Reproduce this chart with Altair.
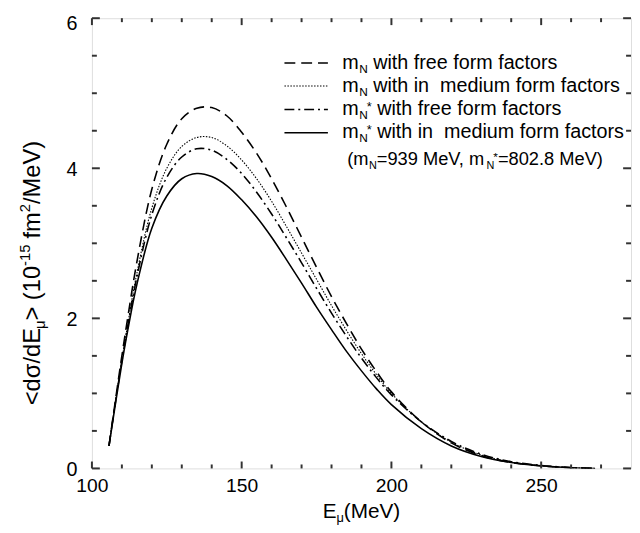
import altair as alt
import pandas as pd

# ---------------- data ----------------
E_MEV = [105.7, 108, 110, 112, 115, 120, 125, 130, 135, 140, 145, 150, 155, 160,
         165, 170, 175, 180, 185, 190, 195, 200, 210, 220, 230, 240, 250, 260, 268]
MN_FREE = [0.30, 0.95, 1.50, 2.02, 2.75, 3.72, 4.32, 4.66, 4.80, 4.81, 4.70, 4.48, 4.20, 3.86,
           3.48, 3.08, 2.68, 2.29, 1.93, 1.59, 1.29, 1.02, 0.62, 0.34, 0.17, 0.08, 0.033, 0.01, 0.0]
MN_MED = [0.30, 0.93, 1.45, 1.93, 2.60, 3.47, 4.00, 4.29, 4.41, 4.41, 4.30, 4.11, 3.86, 3.56,
          3.22, 2.87, 2.52, 2.17, 1.84, 1.53, 1.25, 1.00, 0.62, 0.35, 0.18, 0.085, 0.035, 0.01, 0.0]
MNS_FREE = [0.30, 0.92, 1.43, 1.90, 2.55, 3.38, 3.88, 4.15, 4.26, 4.24, 4.12, 3.93, 3.68, 3.39,
            3.07, 2.74, 2.40, 2.07, 1.76, 1.47, 1.21, 0.98, 0.62, 0.36, 0.19, 0.09, 0.04, 0.012, 0.0]
MNS_MED = [0.30, 0.90, 1.40, 1.85, 2.45, 3.20, 3.63, 3.86, 3.93, 3.89, 3.77, 3.58, 3.35, 3.08,
           2.78, 2.47, 2.15, 1.85, 1.56, 1.30, 1.06, 0.85, 0.53, 0.30, 0.16, 0.08, 0.035, 0.01, 0.0]

X_MAJOR = [100, 150, 200, 250]
X_MINOR = [110, 120, 130, 140, 160, 170, 180, 190, 210, 220, 230, 240, 260, 270]
Y_MAJOR = [0, 2, 4, 6]
Y_MINOR = [0.5, 1, 1.5, 2.5, 3, 3.5, 4.5, 5, 5.5]

# ---------------- layout / style ----------------
FONT = "Liberation Sans"
AX = "#333333"
NB = "\u00a0"
TOP = 7
W, H = 546, 456
xs = alt.Scale(domain=[100, 280], nice=False, zero=False)
ys = alt.Scale(domain=[0, 6], nice=False, zero=False)
XAX = alt.Axis(values=X_MAJOR, ticks=False, domain=False, grid=False, title=None,
               labelFont=FONT, labelFontSize=19.5, labelColor="black",
               labelPadding=8, labelFlush=False, format="d")
YAX = alt.Axis(values=Y_MAJOR, ticks=False, domain=False, grid=False, title=None,
               labelFont=FONT, labelFontSize=20, labelColor="black",
               labelPadding=15, labelFlush=False, format="d",
               labelOffset={"condition": {"test": "datum.value == 6", "value": 5.5},
                            "value": 1})

AW = {' ': 278, NB: 278, '(': 333, ')': 333, '<': 584, '>': 584, '/': 278, '-': 333,
      '=': 584, '*': 389, ',': 278, '.': 278, 'a': 556, 'c': 500, 'd': 556, 'e': 556,
      'f': 278, 'h': 556, 'i': 222, 'm': 833, 'n': 556, 'o': 556, 'r': 333, 's': 500,
      't': 278, 'u': 556, 'w': 722, 'E': 667, 'M': 833, 'N': 722, 'V': 667,
      'σ': 571, 'μ': 577}


def tw(s, size):
    return sum(AW.get(c, 556) for c in s) * size / 1000.0


def one_row():
    return alt.InlineData(values=[{"k": 0}])


def txt(s, px, py, size, angle=0):
    return alt.Chart(one_row()).mark_text(
        text=s, fontSize=size, font=FONT, align="left", baseline="alphabetic",
        angle=angle, color="black"
    ).encode(x=alt.value(px), y=alt.value(py))


def rich_h(pieces, x0, y0):
    """pieces: (text, size, baseline shift, extra x kern) laid out left to right"""
    out, x = [], x0
    for s, size, sh, k in pieces:
        x += k
        out.append(txt(s, x, y0 + sh, size))
        x += tw(s, size)
    return out


def rich_v(pieces, xb, y0):
    """rotated 270: laid out bottom to top; shift >0 = subscript (to the right)"""
    out, y = [], y0
    for s, size, sh, k in pieces:
        y -= k
        out.append(txt(s, xb + sh, y, size, angle=270))
        y -= tw(s, size)
    return out


layers = []

# ---------------- curves ----------------
series = [
    (MN_FREE, [11, 6], 1.6),
    (MN_MED, [1.5, 1.5], 1.1),
    (MNS_FREE, [10, 4, 2, 4], 1.6),
    (MNS_MED, None, 1.6),
]
for vals, dash, sw in series:
    df = pd.DataFrame({"E": E_MEV, "s": vals})
    mk = dict(color="black", strokeWidth=sw, interpolate="catmull-rom", clip=True)
    if dash:
        mk["strokeDash"] = dash
    layers.append(alt.Chart(df).mark_line(**mk).encode(
        x=alt.X("E:Q", scale=xs, axis=XAX),
        y=alt.Y("s:Q", scale=ys, axis=YAX)))


# ---------------- inward ticks on all four sides ----------------
def xticks(vals, ln):
    d = pd.DataFrame({"E": vals})
    b = alt.Chart(d).mark_rule(color=AX, strokeWidth=2)
    xe = alt.X("E:Q", scale=xs, axis=XAX)
    return [b.encode(x=xe, y=alt.value(H), y2=alt.value(H - ln)),
            b.encode(x=xe, y=alt.value(0), y2=alt.value(ln))]


def yticks(vals, ln):
    d = pd.DataFrame({"s": vals})
    b = alt.Chart(d).mark_rule(color=AX, strokeWidth=2)
    ye = alt.Y("s:Q", scale=ys, axis=YAX)
    return [b.encode(y=ye, x=alt.value(0), x2=alt.value(ln)),
            b.encode(y=ye, x=alt.value(W), x2=alt.value(W - ln))]


layers += xticks(X_MAJOR, 7) + xticks(X_MINOR, 4)
layers += yticks(Y_MAJOR, 8) + yticks(Y_MINOR, 5)

# ---------------- legend (drawn) ----------------
DY = 5 - TOP   # keep legend at the same place on the page
LX0, LX1 = 195, 239
TX = 253.5
rows = [
    ([11, 6], 1.6, 47.3, 53.0, False, "with free form factors"),
    ([1.5, 1.5], 1.1, 70.7, 76.3, False, "with in" + NB + " medium form factors"),
    ([10, 4, 2, 4], 1.6, 94.5, 99.6, True, "with free form factors"),
    (None, 1.6, 118.0, 123.0, True, "with in" + NB + " medium form factors"),
]
for dash, sw, ly, by, star, rest in rows:
    mk = dict(color="black", strokeWidth=sw)
    if dash:
        mk["strokeDash"] = dash
    layers.append(alt.Chart(one_row()).mark_rule(**mk).encode(
        x=alt.value(LX0), x2=alt.value(LX1), y=alt.value(ly + DY)))
    pcs = [("m", 20, 0, 0), ("N", 12, 4, 0.5)]
    if star:
        pcs.append(("*", 13, -4, -1.0))
    pcs.append((rest, 20, 0, 5.5))
    layers += rich_h(pcs, TX, by + DY)

layers += rich_h([("(m", 18.5, 0, 0), ("N", 11, 4, 0.5), ("=939 MeV, m", 18.5, 0, 0),
                  ("N", 11, 4, 0.5), ("*", 12, -4, -1.0), ("=802.8 MeV)", 18.5, 0, 0)],
                 258.5, 150.7 + DY)

# ---------------- axis titles (with sub/superscripts) ----------------
XT = [("E", 21, 0, 0), ("μ", 13, 4, 0), ("(MeV)", 21, 0, 0)]
xt_w = sum(tw(s, z) for s, z, _, _ in XT)
layers += rich_h(XT, W / 2 - xt_w / 2, 508 + DY)

YT = [("<dσ/dE", 24, 0, 0), ("μ", 15, 5, 0), (">" + NB + "(10", 24, 0, 0),
      ("-15", 15, -10, 0), ("fm", 24, 0, 6), ("2", 15, -10, 0), ("/MeV)", 24, 0, 0)]
layers += rich_v(YT, -53, 394 + DY)

chart = alt.layer(*layers).properties(
    width=W, height=H,
    autosize=alt.AutoSizeParams(type="none"),
    padding={"left": 85, "top": TOP, "right": 1, "bottom": 56},
).configure_view(stroke=AX, strokeWidth=2).configure(background="white")

chart.save("out.html", embed_options={"renderer": "svg", "actions": False})
